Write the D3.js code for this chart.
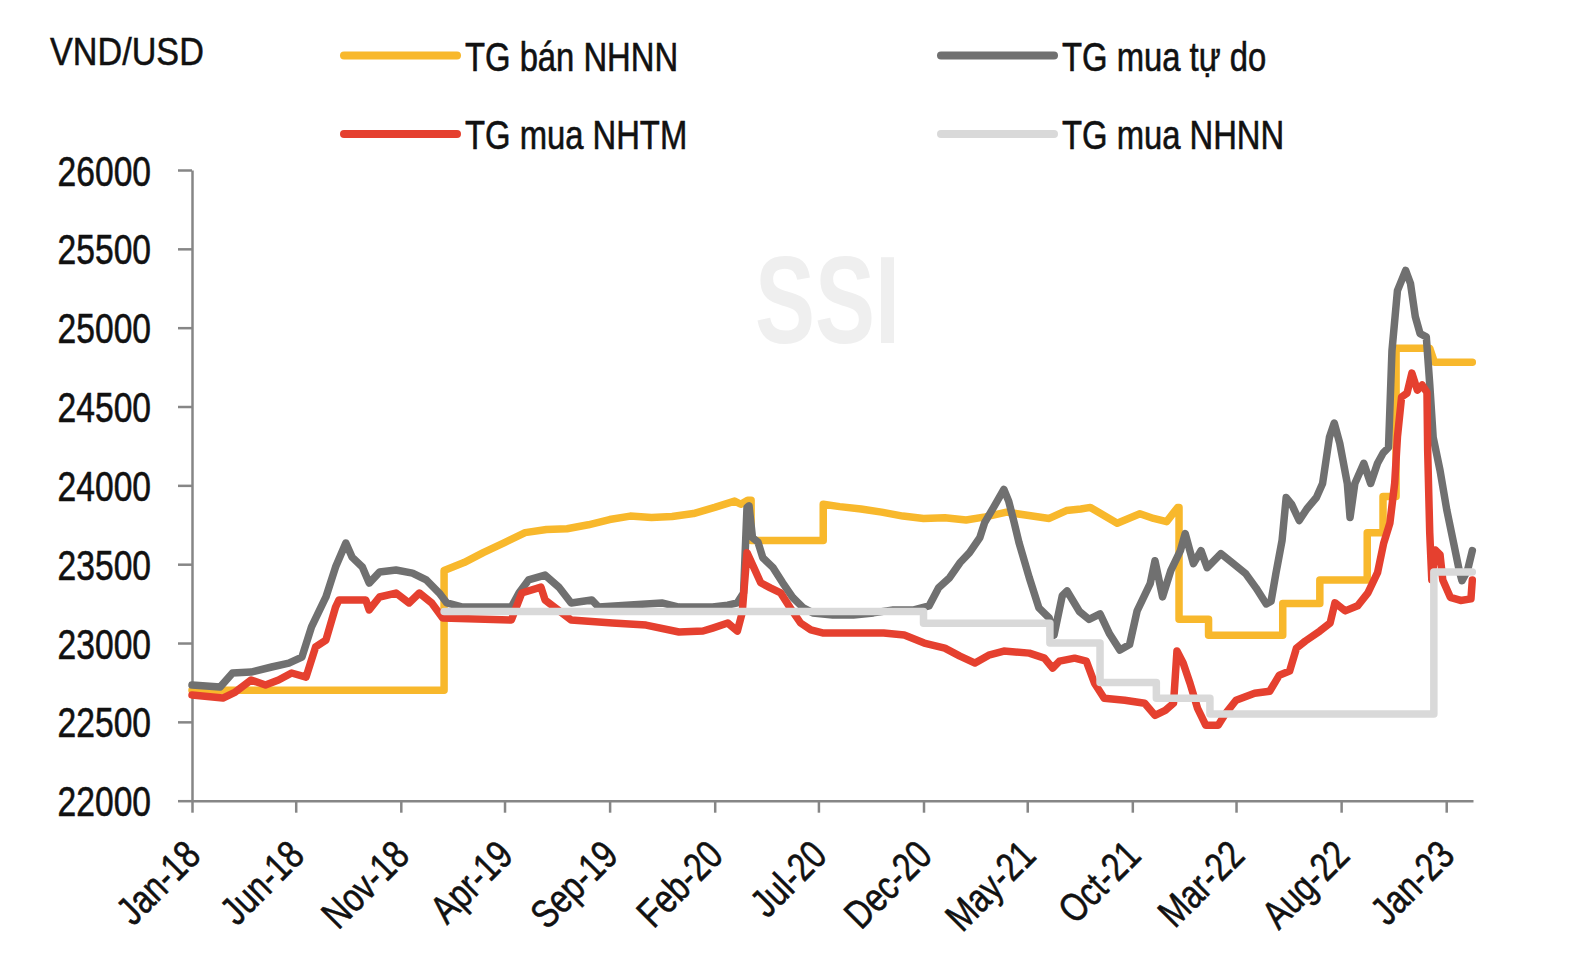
<!DOCTYPE html>
<html><head><meta charset="utf-8">
<script src="https://cdn.jsdelivr.net/npm/d3@7"></script>
<style>body{margin:0;background:#fff} svg{display:block}</style>
</head><body>
<svg id="chart" width="1575" height="972"></svg>
<script>
// ---------- DATA ----------
const unitLabel = "VND/USD";
const seriesNames = ["TG bán NHNN", "TG mua tự do", "TG mua NHTM", "TG mua NHNN"];
const yTicks = [22000, 22500, 23000, 23500, 24000, 24500, 25000, 25500, 26000];
const xTickDates = ["2018-01-01","2018-06-01","2018-11-01","2019-04-01","2019-09-01","2020-02-01","2020-07-01","2020-12-01","2021-05-01","2021-10-01","2022-03-01","2022-08-01","2023-01-01"];
const xTickLabels = ["Jan-18","Jun-18","Nov-18","Apr-19","Sep-19","Feb-20","Jul-20","Dec-20","May-21","Oct-21","Mar-22","Aug-22","Jan-23"];

// TG bán NHNN (SBV selling rate)
const banNHNN = [
["2018-01-01",22700],["2019-01-03",22700],["2019-01-03",23460],["2019-02-01",23510],["2019-03-01",23573],
["2019-04-01",23637],["2019-05-01",23700],["2019-06-01",23720],["2019-07-01",23725],["2019-08-01",23750],
["2019-09-01",23783],["2019-10-01",23805],["2019-11-01",23796],["2019-12-01",23802],["2020-01-01",23821],
["2020-02-01",23860],["2020-03-01",23900],["2020-03-10",23880],["2020-03-20",23905],["2020-03-25",23905],
["2020-03-25",23650],["2020-07-08",23650],["2020-07-08",23880],["2020-08-01",23865],["2020-09-01",23850],
["2020-10-01",23830],["2020-11-01",23805],["2020-12-01",23790],["2021-01-01",23795],["2021-02-01",23780],
["2021-03-01",23800],["2021-04-01",23830],["2021-05-01",23810],["2021-06-02",23790],["2021-06-27",23840],
["2021-07-18",23850],["2021-08-01",23860],["2021-09-09",23760],["2021-10-12",23820],["2021-11-01",23790],
["2021-11-20",23770],["2021-12-06",23860],["2021-12-08",23860],["2021-12-08",23150],["2022-01-20",23150],
["2022-01-20",23050],["2022-05-08",23050],["2022-05-08",23250],["2022-07-01",23250],["2022-07-01",23400],
["2022-09-08",23400],["2022-09-08",23700],["2022-10-01",23700],["2022-10-01",23930],["2022-10-20",23930],
["2022-10-20",24870],["2022-12-08",24870],["2022-12-15",24780],["2023-02-08",24780]
];

// TG mua tự do (free market buying rate)
const muaTuDo = [
["2018-01-01",22734],["2018-02-11",22721],["2018-03-01",22810],["2018-03-28",22816],["2018-04-27",22848],
["2018-05-22",22873],["2018-06-10",22911],["2018-06-24",23102],["2018-07-15",23292],["2018-07-29",23482],
["2018-08-13",23634],["2018-08-22",23545],["2018-09-06",23482],["2018-09-16",23380],["2018-10-01",23450],
["2018-10-25",23463],["2018-11-18",23443],["2018-12-08",23400],["2018-12-27",23317],["2019-01-07",23254],
["2019-01-30",23228],["2019-04-11",23228],["2019-04-22",23317],["2019-05-06",23400],["2019-05-30",23431],
["2019-06-19",23355],["2019-07-07",23254],["2019-08-06",23273],["2019-08-16",23228],["2019-11-16",23254],
["2019-12-11",23228],["2020-01-29",23228],["2020-02-20",23240],["2020-03-05",23255],["2020-03-14",23318],
["2020-03-19",23860],["2020-03-22",23870],["2020-03-27",23669],["2020-04-04",23640],["2020-04-11",23541],
["2020-04-26",23478],["2020-05-10",23382],["2020-05-25",23287],["2020-06-09",23223],["2020-06-23",23191],
["2020-07-22",23178],["2020-08-21",23178],["2020-09-19",23191],["2020-10-18",23210],["2020-11-17",23210],
["2020-12-09",23235],["2020-12-23",23350],["2021-01-08",23414],["2021-01-23",23509],["2021-02-06",23573],
["2021-02-21",23669],["2021-02-28",23764],["2021-03-13",23860],["2021-03-28",23974],["2021-04-04",23900],
["2021-04-12",23764],["2021-04-19",23637],["2021-05-04",23414],["2021-05-18",23223],["2021-06-02",23159],
["2021-06-09",23050],["2021-06-21",23300],["2021-06-28",23330],["2021-07-16",23200],["2021-07-30",23150],
["2021-08-15",23185],["2021-08-29",23057],["2021-09-13",22955],["2021-09-27",22990],["2021-10-08",23204],
["2021-10-27",23376],["2021-11-03",23522],["2021-11-14",23293],["2021-11-26",23459],["2021-12-10",23586],
["2021-12-17",23694],["2021-12-29",23503],["2022-01-09",23586],["2022-01-18",23478],["2022-02-07",23567],
["2022-02-26",23500],["2022-03-15",23440],["2022-03-30",23350],["2022-04-14",23248],["2022-04-21",23265],
["2022-04-28",23440],["2022-05-07",23650],["2022-05-13",23923],["2022-05-21",23879],["2022-06-01",23777],
["2022-06-12",23850],["2022-06-26",23923],["2022-07-05",24012],["2022-07-15",24305],["2022-07-22",24395],
["2022-07-30",24267],["2022-08-10",24012],["2022-08-14",23796],["2022-08-21",24012],["2022-09-03",24140],
["2022-09-13",24012],["2022-09-23",24140],["2022-10-01",24204],["2022-10-09",24240],["2022-10-14",24853],
["2022-10-22",25235],["2022-11-03",25363],["2022-11-10",25280],["2022-11-17",25070],["2022-11-24",24962],
["2022-12-03",24942],["2022-12-08",24643],["2022-12-13",24305],["2022-12-23",24095],["2023-01-02",23840],
["2023-01-12",23630],["2023-01-20",23460],["2023-01-24",23395],["2023-02-01",23460],["2023-02-08",23586]
];

// TG mua NHTM (commercial bank buying rate)
const muaNHTM = [
["2018-01-01",22670],["2018-02-15",22651],["2018-03-05",22689],["2018-03-28",22765],["2018-04-18",22734],
["2018-05-07",22765],["2018-05-26",22810],["2018-06-16",22784],["2018-06-30",22975],["2018-07-15",23019],
["2018-07-29",23228],["2018-08-03",23273],["2018-09-11",23273],["2018-09-16",23210],["2018-10-01",23292],
["2018-10-25",23317],["2018-11-13",23254],["2018-11-28",23317],["2018-12-16",23254],["2019-01-01",23159],
["2019-04-11",23146],["2019-04-26",23317],["2019-05-24",23355],["2019-05-30",23273],["2019-07-07",23146],
["2019-09-05",23127],["2019-10-24",23114],["2019-12-11",23070],["2020-01-15",23076],["2020-01-29",23095],
["2020-02-20",23127],["2020-03-05",23076],["2020-03-12",23191],["2020-03-19",23573],["2020-03-29",23478],
["2020-04-08",23382],["2020-04-22",23350],["2020-05-07",23318],["2020-05-21",23223],["2020-06-05",23127],
["2020-06-20",23083],["2020-07-07",23064],["2020-08-21",23064],["2020-10-04",23064],["2020-11-03",23051],
["2020-12-02",23000],["2021-01-01",22968],["2021-01-23",22917],["2021-02-14",22873],["2021-03-06",22923],
["2021-03-28",22949],["2021-05-04",22936],["2021-05-26",22904],["2021-06-07",22841],["2021-06-17",22885],
["2021-07-09",22904],["2021-07-26",22885],["2021-08-07",22745],["2021-08-21",22650],["2021-09-20",22637],
["2021-10-19",22618],["2021-11-03",22541],["2021-11-18",22573],["2021-11-30",22618],["2021-12-05",22949],
["2021-12-14",22873],["2021-12-24",22745],["2022-01-04",22586],["2022-01-16",22478],["2022-02-03",22478],
["2022-02-14",22554],["2022-03-01",22637],["2022-03-28",22681],["2022-04-19",22694],["2022-05-03",22796],
["2022-05-18",22822],["2022-05-28",22968],["2022-06-10",23013],["2022-07-01",23076],["2022-07-16",23127],
["2022-07-23",23255],["2022-08-07",23204],["2022-08-25",23236],["2022-09-09",23318],["2022-09-23",23446],
["2022-10-02",23634],["2022-10-11",23761],["2022-10-18",24015],["2022-10-22",24307],["2022-10-28",24560],
["2022-11-05",24585],["2022-11-12",24712],["2022-11-20",24604],["2022-11-27",24636],["2022-12-04",24590],
["2022-12-05",24224],["2022-12-08",23700],["2022-12-11",23400],["2022-12-16",23590],["2022-12-23",23560],
["2022-12-27",23400],["2023-01-07",23290],["2023-01-22",23270],["2023-02-06",23280],["2023-02-08",23400]
];

// TG mua NHNN (SBV buying rate)
const muaNHNN = [
["2019-01-03",23200],["2020-12-01",23200],["2020-12-01",23125],["2021-06-03",23125],["2021-06-03",23000],
["2021-08-15",23000],["2021-08-15",22750],["2021-11-05",22750],["2021-11-05",22650],["2022-01-22",22650],
["2022-01-22",22550],["2022-12-14",22550],["2022-12-14",23450],["2023-02-08",23450]
];

const colors = ["#F8B82C", "#707070", "#E5402F", "#D9D9D9"];

// ---------- CHART ----------
const parse = d3.timeParse("%Y-%m-%d");
const svg = d3.select("#chart");
const FONT = "'Liberation Sans', Arial, sans-serif";

const x = d3.scaleTime().domain([parse("2018-01-01"), parse("2023-02-09")]).range([192, 1473]);
const y = d3.scaleLinear().domain([22000, 26000]).range([800.7, 170]);

// watermark
svg.append("text").attr("x", 755).attr("y", 343)
  .attr("font-family", FONT).attr("font-weight", "bold").attr("font-size", 125)
  .attr("fill", "#efefef").attr("textLength", 145).attr("lengthAdjust", "spacingAndGlyphs")
  .text("SSI");

// Y axis
const yAxis = svg.append("g").attr("transform", "translate(192,0)")
  .call(d3.axisLeft(y).tickValues(yTicks).tickFormat(d3.format("d")).tickSize(14).tickSizeOuter(0));
// X axis
const xAxis = svg.append("g").attr("transform", `translate(0,${y(22000)})`)
  .call(d3.axisBottom(x).tickValues(xTickDates.map(parse)).tickFormat((d, i) => xTickLabels[i]).tickSize(12).tickSizeOuter(0));

[yAxis, xAxis].forEach(g => {
  g.select(".domain").attr("stroke", "#868686").attr("stroke-width", 2.5);
  g.selectAll(".tick line").attr("stroke", "#868686").attr("stroke-width", 2.5);
  g.selectAll(".tick text").attr("fill", "#111").attr("font-family", FONT)
    .attr("stroke", "#111").attr("stroke-width", 0.6);
});
yAxis.selectAll(".tick text").attr("x", 0).attr("dy", "0.36em").attr("font-size", 42)
  .attr("text-anchor", "end").attr("transform", "translate(-41,0) scale(0.8,1)");
xAxis.selectAll(".tick text").attr("y", 0).attr("dy", 0).attr("font-size", 40)
  .attr("text-anchor", "end").attr("transform", "translate(10,57) rotate(-45) scale(0.8,1)");

// lines
const line = d3.line().x(d => x(parse(d[0]))).y(d => y(d[1]));
[banNHNN, muaTuDo, muaNHTM, muaNHNN].forEach((s, i) => {
  svg.append("path").datum(s).attr("d", line)
    .attr("fill", "none").attr("stroke", colors[i]).attr("stroke-width", 7.5)
    .attr("stroke-linejoin", "round").attr("stroke-linecap", "round");
});

// unit label
svg.append("text").attr("font-family", FONT).attr("font-size", 38).attr("fill", "#111")
  .attr("stroke", "#111").attr("stroke-width", 0.5)
  .attr("transform", "translate(50,65) scale(0.9,1)").text(unitLabel);

// legend
const legendPos = [[344, 55.5], [941, 55.5], [344, 134], [941, 134]];
seriesNames.forEach((name, i) => {
  const [lx, ly] = legendPos[i];
  svg.append("line").attr("x1", lx).attr("x2", lx + 113).attr("y1", ly).attr("y2", ly)
    .attr("stroke", colors[i]).attr("stroke-width", 8).attr("stroke-linecap", "round");
  svg.append("text").attr("font-family", FONT).attr("font-size", 41).attr("fill", "#111")
    .attr("stroke", "#111").attr("stroke-width", 0.6)
    .attr("transform", `translate(${lx + 121},${ly + 15}) scale(0.8,1)`).text(name);
});
</script>
</body></html>
